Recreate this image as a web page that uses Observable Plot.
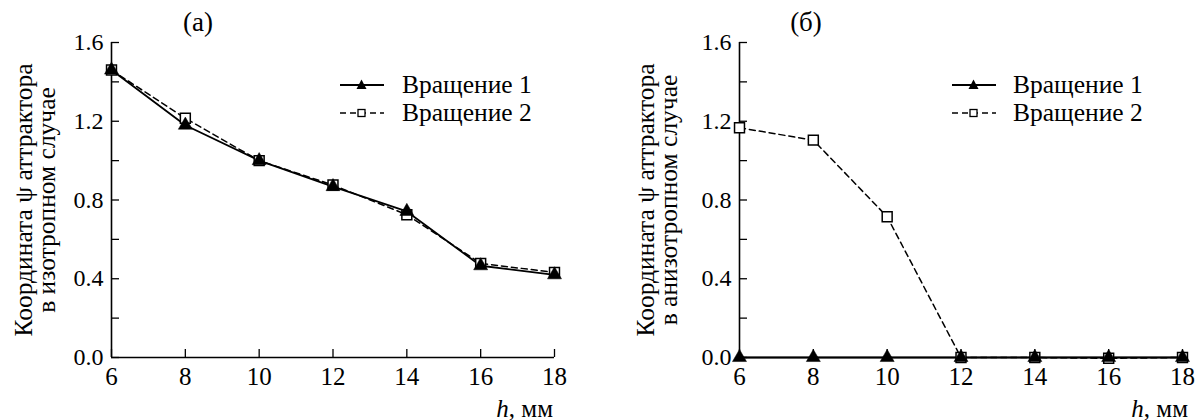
<!DOCTYPE html>
<html><head><meta charset="utf-8">
<script src="https://cdn.jsdelivr.net/npm/d3@7"></script>
<script src="https://cdn.jsdelivr.net/npm/@observablehq/plot@0.6"></script>
<style>
body{margin:0;background:#fff;}
#wrap{position:relative;width:1200px;height:420px;display:flex;font-family:"Liberation Serif","DejaVu Serif",serif;color:#000;}
.panel{position:relative;width:600px;height:420px;}
.panel svg{display:block;}
.title{position:absolute;font-size:27px;transform:translate(-50%,-50%);white-space:nowrap;line-height:1;}
.xlab{position:absolute;font-size:25px;transform:translate(-100%,-50%);white-space:nowrap;line-height:1;}
.legend{position:absolute;font-size:25.5px;line-height:1;}
.row{position:relative;height:28px;}
.row svg{position:absolute;left:0;top:4px;}
.row span{position:absolute;top:1px;white-space:nowrap;}
</style></head>
<body><div id="wrap"></div>
<script>
// ---- data ----
const hValues = [6, 8, 10, 12, 14, 16, 18];
const isoRot1 = [1.46, 1.18, 1.00, 0.868, 0.742, 0.466, 0.42];
const isoRot2 = [1.46, 1.215, 1.00, 0.876, 0.725, 0.478, 0.432];
const anisoRot1 = [0, 0, 0, 0, 0, 0, 0];
const anisoRot2 = [1.167, 1.104, 0.715, 0, 0, -0.004, 0];
const seriesNames = ["Вращение 1", "Вращение 2"];
const xTicks = [6, 8, 10, 12, 14, 16, 18];
const yLabelTicks = [0, 0.4, 0.8, 1.2, 1.6];
const yAllTicks = [0, 0.2, 0.4, 0.6, 0.8, 1.0, 1.2, 1.4, 1.6];
const panelTitles = ["(а)", "(б)"];
const yTitles = ["Координата ψ аттрактора\nв изотропном случае", "Координата ψ аттрактора\nв анизотропном случае"];
const xTitle = "мм";

const FONT = '"Liberation Serif", "DejaVu Serif", serif';

const panels = [
  {s1: isoRot1, s2: isoRot2, title: panelTitles[0], ytitle: yTitles[0],
   ml: 111, mr: 46, ydx: -75, titleX: 198, legLeft: 340, legText: 62, xlabRight: 553},
  {s1: anisoRot1, s2: anisoRot2, title: panelTitles[1], ytitle: yTitles[1],
   ml: 139, mr: 18, ydx: -81, titleX: 206, legLeft: 352, legText: 61, xlabRight: 588}
];

const W = 600, H = 420, MT = 42, MB = 63;
const wrap = document.getElementById("wrap");

function swatch(dashed) {
  const sym = dashed
    ? `<rect x="18" y="6.5" width="7" height="7" fill="#fff" stroke="#000" stroke-width="1.3"/>`
    : `<path d="M21.5,4.5 L26.5,14 L16.5,14 Z" fill="#000"/>`;
  return `<svg width="46" height="20"><line x1="0" x2="44" y1="10" y2="10" stroke="#000" stroke-width="${dashed ? 1.5 : 1.8}" ${dashed ? 'stroke-dasharray="6,4"' : ""}/>${sym}</svg>`;
}

for (const p of panels) {
  const d1 = hValues.map((h, i) => ({h, v: p.s1[i], s: seriesNames[0]}));
  const d2 = hValues.map((h, i) => ({h, v: p.s2[i], s: seriesNames[1]}));
  const fw = W - p.ml - p.mr, fh = H - MT - MB;
  const chart = Plot.plot({
    width: W, height: H,
    marginLeft: p.ml, marginRight: p.mr, marginTop: MT, marginBottom: MB,
    style: {fontFamily: FONT, fontSize: "24px", background: "#fff", color: "#000", overflow: "visible"},
    x: {domain: [6, 18]},
    y: {domain: [0, 1.6]},
    marks: [
      Plot.axisX({ticks: xTicks, tickSize: 0, tickPadding: 10, label: null, fontSize: 25, fontFamily: FONT}),
      Plot.axisY({ticks: yLabelTicks, tickSize: 0, tickPadding: 8, tickFormat: d3.format(".1f"), label: null, fontSize: 24, fontFamily: FONT}),
      Plot.tickX(xTicks, {x: d => d, insetTop: fh - 8, stroke: "#000", strokeWidth: 1.3}),
      Plot.tickY(yAllTicks, {y: d => d, insetRight: fw - 8, stroke: "#000", strokeWidth: 1.3}),
      Plot.ruleX([6], {stroke: "#000", strokeWidth: 1.6}),
      Plot.ruleY([0], {stroke: "#000", strokeWidth: 1.6}),
      Plot.line(d2, {x: "h", y: "v", stroke: "#000", strokeWidth: 1.5, strokeDasharray: "6,4"}),
      Plot.line(d1, {x: "h", y: "v", stroke: "#000", strokeWidth: 1.8}),
      Plot.dot(d2, {x: "h", y: "v", symbol: "square", r: 5.6, fill: "#fff", stroke: "#000", strokeWidth: 1.5}),
      Plot.dot(d1, {x: "h", y: "v", symbol: "triangle", r: 5.2, fill: "#000", stroke: "#000", strokeWidth: 0.5}),
      Plot.text([p.ytitle], {frameAnchor: "left", rotate: -90, dx: p.ydx, lineHeight: 0.9, fontSize: 25.5, fontFamily: FONT, textAnchor: "middle", lineAnchor: "middle", fill: "#000"})
    ]
  });
  const div = document.createElement("div");
  div.className = "panel";
  div.appendChild(chart);
  const t = document.createElement("div");
  t.className = "title";
  t.style.left = p.titleX + "px"; t.style.top = "22px";
  t.textContent = p.title;
  div.appendChild(t);
  const xl = document.createElement("div");
  xl.className = "xlab";
  xl.style.left = p.xlabRight + "px"; xl.style.top = "408px";
  xl.innerHTML = `<i>h</i>, ${xTitle}`;
  div.appendChild(xl);
  const leg = document.createElement("div");
  leg.className = "legend";
  leg.style.left = p.legLeft + "px"; leg.style.top = "71px";
  leg.innerHTML = seriesNames.map((n, i) => `<div class="row">${swatch(i === 1)}<span style="left:${p.legText}px">${n}</span></div>`).join("");
  div.appendChild(leg);
  wrap.appendChild(div);
}
</script>
</body></html>
